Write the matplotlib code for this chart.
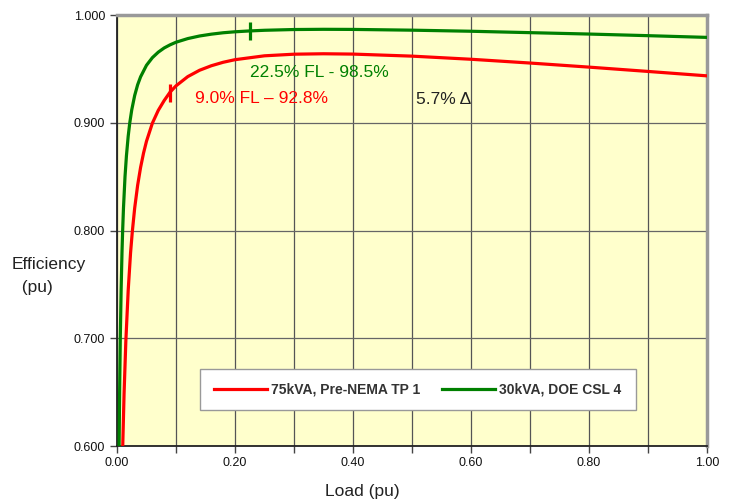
import matplotlib
matplotlib.use("Agg")
import matplotlib.pyplot as plt
from matplotlib.ticker import MultipleLocator, FixedLocator

plt.rcParams['font.family'] = ['Liberation Sans', 'DejaVu Sans']

# Efficiency vs. per-unit load, 75 kVA pre-NEMA TP 1 unit
load_75 = [0.00975, 0.012, 0.015, 0.019, 0.023, 0.026, 0.03, 0.035, 0.04, 0.045,
           0.05, 0.06, 0.07, 0.08, 0.09, 0.10, 0.12, 0.14, 0.16, 0.18, 0.20,
           0.25, 0.30, 0.35, 0.40, 0.50, 0.60, 0.70, 0.80, 0.90, 1.00]
eff_75 = [0.600, 0.6485, 0.6973, 0.7445, 0.7793, 0.7991, 0.8209, 0.8420, 0.8586,
          0.8719, 0.8829, 0.8997, 0.9116, 0.9207, 0.9285, 0.9343, 0.9429, 0.9488,
          0.9530, 0.9562, 0.9586, 0.9622, 0.9637, 0.9641, 0.9638, 0.9619, 0.9590,
          0.9555, 0.9517, 0.9477, 0.9436]

# Efficiency vs. per-unit load, 30 kVA DOE CSL 4 unit
load_30 = [0.0036, 0.0045, 0.0056, 0.007, 0.0085, 0.0096, 0.011, 0.0136, 0.016,
           0.019, 0.0216, 0.025, 0.03, 0.035, 0.04, 0.05, 0.06, 0.07, 0.08, 0.09,
           0.10, 0.12, 0.14, 0.16, 0.18, 0.20, 0.225, 0.25, 0.30, 0.35, 0.40,
           0.50, 0.60, 0.70, 0.80, 0.90, 1.00]
eff_30 = [0.600, 0.652, 0.700, 0.7447, 0.780, 0.800, 0.8209, 0.850, 0.8693,
          0.8876, 0.8997, 0.9120, 0.9254, 0.9353, 0.9427, 0.9534, 0.9605, 0.9656,
          0.9695, 0.9724, 0.9748, 0.9782, 0.9806, 0.9823, 0.9836, 0.9845, 0.9853,
          0.9859, 0.9866, 0.9868, 0.9867, 0.9860, 0.9850, 0.9837, 0.9824, 0.9809,
          0.9793]

# Operating points called out on the curves
mark_75 = (0.09, 0.928)
mark_30 = (0.225, 0.985)

labels = ["75kVA, Pre-NEMA TP 1", "30kVA, DOE CSL 4"]
x_ticks = [0.0, 0.2, 0.4, 0.6, 0.8, 1.0]
y_ticks = [0.6, 0.7, 0.8, 0.9, 1.0]

RED = "#FF0000"
GREEN = "#008000"
NARROW = ["Liberation Sans Narrow", "Liberation Sans", "DejaVu Sans"]

fig = plt.figure(figsize=(7.33, 5.03), dpi=100)
ax = fig.add_axes([0.1596, 0.1133, 0.8049, 0.8567])
ax.set_facecolor("#FFFFCC")

ax.plot(load_75, eff_75, color=RED, lw=2.3, label=labels[0], zorder=3)
ax.plot(load_30, eff_30, color=GREEN, lw=2.3, label=labels[1], zorder=3)
ax.plot(*mark_75, marker="|", ms=13, mew=2.3, color=RED, zorder=4)
ax.plot(*mark_30, marker="|", ms=13, mew=2.3, color=GREEN, zorder=4)

ax.set_xlim(0, 1.0)
ax.set_ylim(0.6, 1.0)
ax.xaxis.set_major_locator(FixedLocator(x_ticks))
ax.xaxis.set_minor_locator(MultipleLocator(0.1))
ax.yaxis.set_major_locator(FixedLocator(y_ticks))
ax.set_xticklabels([f"{v:.2f}" for v in x_ticks])
ax.set_yticklabels([f"{v:.3f}" for v in y_ticks])

ax.grid(which="minor", axis="x", color="#555555", lw=0.9, zorder=1)
ax.grid(which="major", axis="x", color="#555555", lw=0.9, zorder=1)
ax.grid(which="major", axis="y", color="#666666", lw=0.9, zorder=1)

ax.tick_params(axis="both", which="both", direction="out", length=5, width=1,
               color="#444444", labelsize=9, labelcolor="#111111")
ax.tick_params(axis="x", pad=3)

for side in ("left", "bottom"):
    ax.spines[side].set_color("#222222")
    ax.spines[side].set_linewidth(1.3)
for side in ("right", "top"):
    ax.spines[side].set_color("#999999")
    ax.spines[side].set_linewidth(2.5)

ax.text(0.225, 0.9471, "22.5% FL - 98.5%", color=GREEN, fontsize=12.5,
        ha="left", va="center", family=NARROW)
ax.text(0.132, 0.9229, "9.0% FL \u2013 92.8%", color=RED, fontsize=12.5,
        ha="left", va="center", family=NARROW)
ax.text(0.506, 0.9220, "5.7% \u0394", color="#222222", fontsize=12.5,
        ha="left", va="center", family=NARROW)

fig.text(0.016, 0.452, "Efficiency\n  (pu)", fontsize=12.5, color="#222222",
         ha="left", va="center", linespacing=1.65, family=NARROW)
fig.text(0.494, 0.022, "Load (pu)", fontsize=12.5, color="#222222",
         ha="center", va="center", family=NARROW)

leg = ax.legend(loc="center", bbox_to_anchor=(0.510, 0.131), ncol=2,
                frameon=True, fancybox=False, edgecolor="#999999",
                framealpha=1.0, handlelength=3.8, columnspacing=1.6,
                prop={"weight": "bold", "size": 10}, borderpad=1.0,
                handletextpad=0.3)
leg.get_frame().set_linewidth(1.0)
for t in leg.get_texts():
    t.set_color("#333333")

fig.savefig("out.png", dpi=100, facecolor="white")
